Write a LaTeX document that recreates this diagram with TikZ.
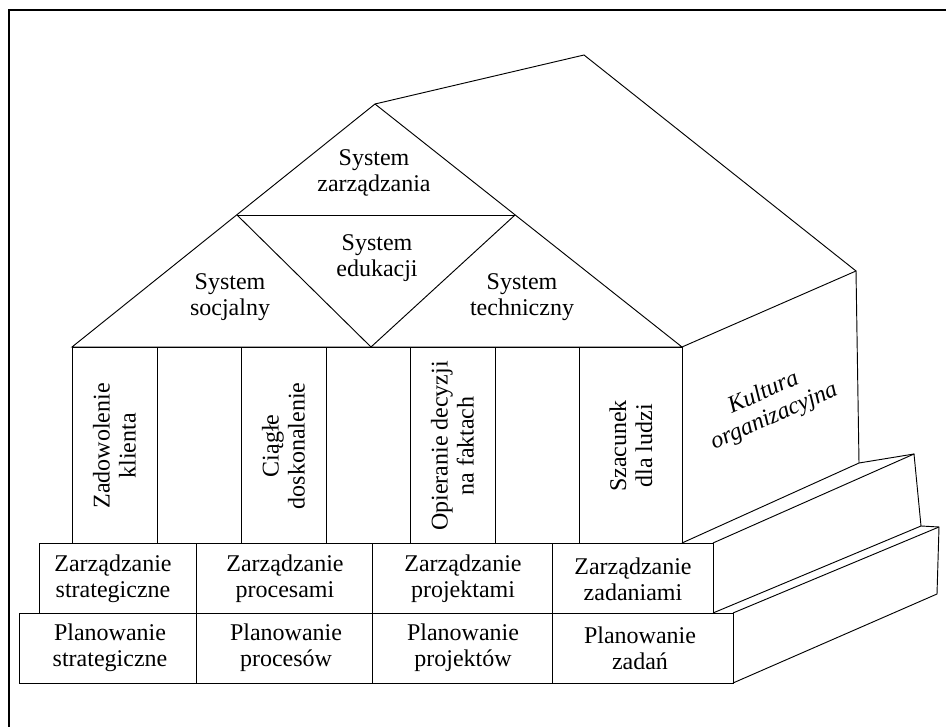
\documentclass[tikz,border=0pt]{standalone}
\usepackage{fontspec}
\setmainfont{Liberation Serif}
\begin{document}
\begin{tikzpicture}[x=0.75pt, y=-0.75pt, line width=0.7pt, line join=miter,
  lbl/.style={align=center, font=\fontsize{18}{19.5}\selectfont, inner sep=0pt},
  vlbl/.style={lbl, rotate=90},
  edge/.style={draw, line width=0.7pt}]
\useasboundingbox (0,0) rectangle (946,727);

% outer frame
\draw[line width=1.1pt] (946,10) -- (9,10) -- (9,727);

% key corners of the house
\coordinate (apex)   at (375,104);
\coordinate (ridge)  at (584,55);
\coordinate (rear)   at (856,271);
\coordinate (eaveL)  at (72,347);
\coordinate (eaveR)  at (682,347);
\coordinate (midL)   at (237,215);
\coordinate (midR)   at (515,215);
\coordinate (vtip)   at (371,347);
\coordinate (baseL)  at (72,543);
\coordinate (baseR)  at (682,543);
\coordinate (rearB)  at (859,463);

% roof: front gable split into four triangles, plus the side slope
\draw[edge] (eaveL) -- (apex) -- (eaveR) -- cycle;
\draw[edge] (midL) -- (midR);
\draw[edge] (midL) -- (vtip) -- (midR);
\draw[edge] (apex) -- (ridge) -- (rear) -- (eaveR);

% side wall
\draw[edge] (rear) -- (rearB);
\draw[edge] (eaveR) -- (baseR);

% columns
\draw[edge] (eaveL) rectangle (baseR);
\foreach \x in {157,241,326,410,495,579}
  \draw[edge] (\x,347) -- (\x,543);

% upper step (management row)
\coordinate (r1TL) at (39,543);
\coordinate (r1BR) at (713,613);
\coordinate (r1TR) at (713,543);
\draw[edge] (r1TL) rectangle (r1BR);
\foreach \x in {196,372,552}
  \draw[edge] (\x,543) -- (\x,613);

% lower step (planning row)
\coordinate (r2TL) at (19,613);
\coordinate (r2BR) at (733,683);
\coordinate (r2TR) at (733,613);
\draw[edge] (r2TL) rectangle (r2BR);
\foreach \x in {196,372,552}
  \draw[edge] (\x,613) -- (\x,683);

% side faces of the steps
\coordinate (s1a) at (914,454);
\coordinate (s1b) at (921,526);
\coordinate (s2a) at (939,527);
\coordinate (s2b) at (937,594);
\draw[edge] (baseR) -- (rearB) -- (s1a) -- (s1b) -- (s2a) -- (s2b) -- (r2BR);
\draw[edge] (r1TR) -- (s1a);
\draw[edge] (r1BR) -- (s1b);
\draw[edge] (r2TR) -- (s2a);

% roof labels
\node[lbl] (zarz) at (374,173) {System\\zarządzania};
\node[lbl] (edu)  at (377,258) {System\\edukacji};
\node[lbl] (soc)  at (230,297) {System\\socjalny};
\node[lbl] (tech) at (522,297) {System\\techniczny};

% column labels
\node[vlbl] (c1) at (114.5,446) {Zadowolenie\\klienta};
\node[vlbl] (c3) at (283.5,446) {Ciągłe\\doskonalenie};
\node[vlbl] (c5) at (452.5,446) {Opieranie decyzji\\na faktach};
\node[vlbl] (c7) at (631,446) {Szacunek\\dla ludzi};

% culture label on the side wall
\node[lbl, rotate=24, font=\fontsize{18}{19.5}\selectfont\itshape] (kult) at (769,405) {Kultura\\organizacyjna};

% management row labels
\node[lbl] (m1) at (113,579) {Zarządzanie\\strategiczne};
\node[lbl] (m2) at (285,579) {Zarządzanie\\procesami};
\node[lbl] (m3) at (463,579) {Zarządzanie\\projektami};
\node[lbl] (m4) at (633,579) {Zarządzanie\\zadaniami};

% planning row labels
\node[lbl] (p1) at (110,648) {Planowanie\\strategiczne};
\node[lbl] (p2) at (286,648) {Planowanie\\procesów};
\node[lbl] (p3) at (463,648) {Planowanie\\projektów};
\node[lbl] (p4) at (640,648) {Planowanie\\zadań};
\end{tikzpicture}
\end{document}
